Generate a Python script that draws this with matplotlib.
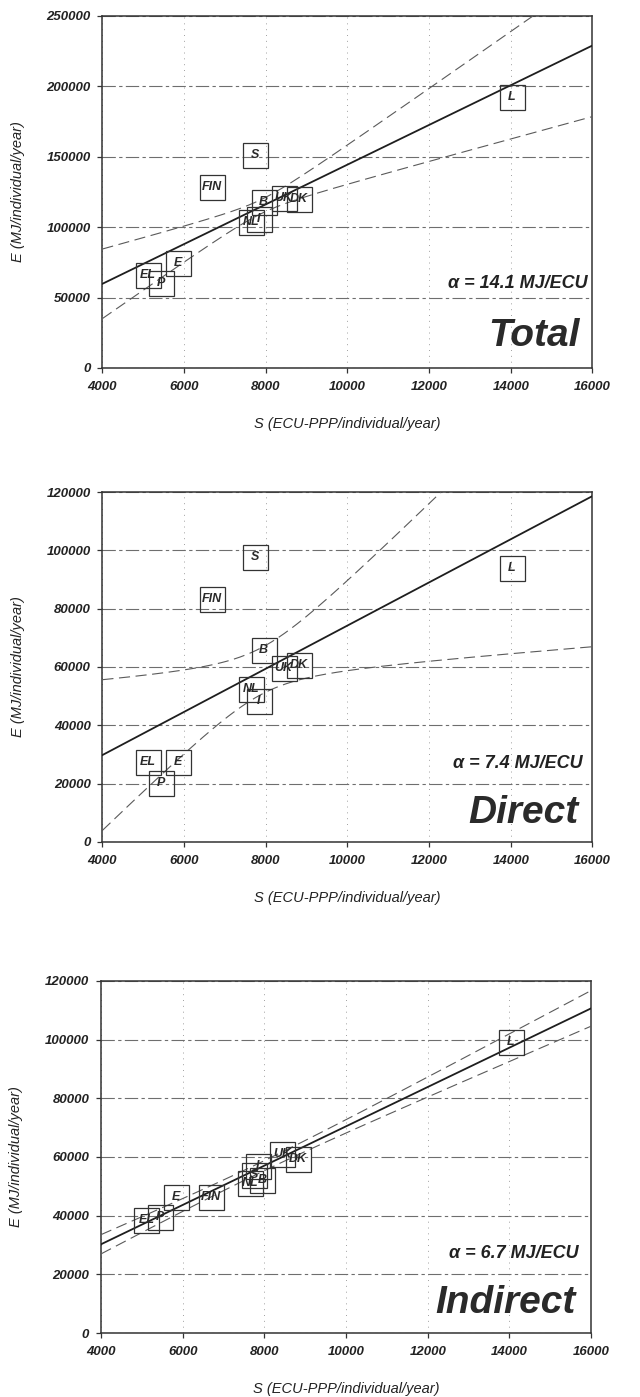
import numpy as np
import matplotlib.pyplot as plt

plt.rcParams['font.family'] = ['Liberation Sans', 'DejaVu Sans']
plt.rcParams['font.weight'] = 'bold'
plt.rcParams['font.style'] = 'italic'

# per-capita spending (ECU-PPP) and household energy (MJ) per country
countries = ['B', 'DK', 'E', 'EL', 'FIN', 'I', 'L', 'NL', 'P', 'S', 'UK']
income = [7950, 8810, 5840, 5110, 6690, 7830, 14030, 7650, 5440, 7740, 8440]
energy_total = [117900, 119800, 74200, 65900, 128800, 105600, 192100, 103700, 60300, 151500, 120800]
energy_direct = [65700, 60800, 27300, 27300, 83300, 48300, 93800, 52600, 20200, 97800, 59800]
energy_indirect = [52100, 59400, 46500, 38400, 46200, 56900, 99100, 51200, 39600, 53900, 61000]

panel_names = ['Total', 'Direct', 'Indirect']
alpha = [14.1, 7.4, 6.7]          # MJ/ECU, slope of the fit
intercept = [3376, 202, 3466]
band_width0 = [5000, 8000, 1700]  # half width of the band at its centre
band_spread = [6.2, 6.3, 0.72]    # growth of half width per ECU from centre
band_centre = 7900
y_max = [250000, 120000, 120000]
y_step = [50000, 20000, 20000]

x_ticks = list(range(4000, 16001, 2000))

positions = [[0.16, 0.7366, 0.7656, 0.252],
             [0.16, 0.3973, 0.7656, 0.2505],
             [0.158, 0.0458, 0.7656, 0.252]]
word_pos = [(0.973, 0.063), (0.971, 0.054), (0.969, 0.057)]
alpha_pos = [(0.99, 0.227), (0.981, 0.211), (0.974, 0.213)]

fig = plt.figure(figsize=(6.4, 13.97), dpi=100)

series = [energy_total, energy_direct, energy_indirect]
for i in range(3):
    ax = fig.add_axes(positions[i])
    ax.set_xlim(4000, 16000)
    ax.set_ylim(0, y_max[i])

    xs = np.linspace(4000, 16000, 300)
    fit = alpha[i] * xs + intercept[i]
    half = np.sqrt(band_width0[i] ** 2 + (band_spread[i] * (xs - band_centre)) ** 2)
    ax.plot(xs, fit, color='#1e1e1e', lw=1.3, zorder=3)
    ax.plot(xs, fit + half, color='#5a5a5a', lw=0.8, dashes=(10, 5), zorder=3)
    ax.plot(xs, fit - half, color='#5a5a5a', lw=0.8, dashes=(10, 5), zorder=3)

    ax.plot(income, series[i], 's', ms=18, mfc='none', mec='#333333', mew=0.9, zorder=4)
    for c, x, y in zip(countries, income, series[i]):
        ax.text(x, y, c, ha='center', va='center', fontsize=9, color='#2a2a2a', zorder=5)

    ax.set_xticks(x_ticks)
    ax.set_xticklabels([str(t) for t in x_ticks])
    y_ticks = list(range(0, y_max[i] + 1, y_step[i]))
    ax.set_yticks(y_ticks)
    ax.set_yticklabels([str(t) for t in y_ticks])

    ax.yaxis.grid(True, color='#6e6e6e', lw=0.8, linestyle=(0, (12, 3, 3, 3)))
    ax.xaxis.grid(True, color='#a0a0a0', lw=0.7, linestyle=(0, (1, 5)))
    ax.set_axisbelow(True)

    ax.tick_params(direction='out', length=3.5, width=0.9, color='#333333',
                   labelsize=9.5, labelcolor='#222222')
    ax.tick_params(axis='x', pad=6)
    ax.tick_params(axis='y', pad=5)
    for s in ax.spines.values():
        s.set_color('#333333')
        s.set_linewidth(1.1)

    ax.set_xlabel('S (ECU-PPP/individual/year)', fontsize=10.5, color='#222222')
    ax.xaxis.label.set_va('center')
    ax.xaxis.set_label_coords(0.5, -0.16)
    ax.set_ylabel('E (MJ/individual/year)', fontsize=10.5, color='#222222')
    ax.yaxis.label.set_va('center')
    ax.yaxis.set_label_coords(-0.173, 0.5)

    ax.text(word_pos[i][0], word_pos[i][1], panel_names[i], transform=ax.transAxes,
            ha='right', va='baseline', fontsize=28, color='#2a2a2a')
    ax.text(alpha_pos[i][0], alpha_pos[i][1], 'α = %.1f MJ/ECU' % alpha[i],
            transform=ax.transAxes, ha='right', va='baseline', fontsize=13, color='#222222')

fig.savefig('out.png', dpi=100)
